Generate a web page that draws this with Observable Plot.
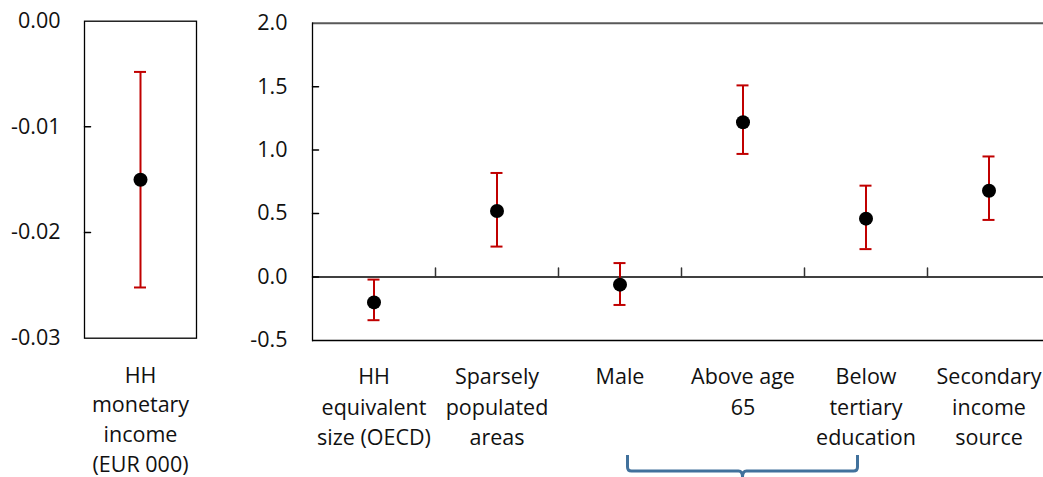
<!DOCTYPE html>
<html><head><meta charset="utf-8">
<script src="https://cdn.jsdelivr.net/npm/d3@7"></script>
<script src="https://cdn.jsdelivr.net/npm/@observablehq/plot@0.6"></script>
<style>
body{margin:0;background:#fff;overflow:hidden}
#wrap{position:relative;width:1043px;height:477px;overflow:hidden;background:#fff}
#wrap svg{position:absolute;top:0}
</style></head><body><div id="wrap"></div>
<script>
// ---- Left panel data ----
const incomeCategory = ["HH monetary income (EUR 000)"];
const incomeLabel = ["HH\nmonetary\nincome\n(EUR 000)"];
const incomeCoef = [-0.015];
const incomeLow = [-0.0252];
const incomeHigh = [-0.0048];
const incomeTicks = [0, -0.01, -0.02, -0.03];

// ---- Right panel data ----
const categories = ["HH equivalent size (OECD)", "Sparsely populated areas", "Male", "Above age 65", "Below tertiary education", "Secondary income source"];
const categoryLabels = ["HH\nequivalent\nsize (OECD)", "Sparsely\npopulated\nareas", "Male", "Above age\n65", "Below\ntertiary\neducation", "Secondary\nincome\nsource"];
const coef = [-0.20, 0.52, -0.06, 1.22, 0.46, 0.68];
const low = [-0.34, 0.24, -0.22, 0.97, 0.22, 0.45];
const high = [-0.02, 0.82, 0.11, 1.51, 0.72, 0.95];
const yTicks = [2.0, 1.5, 1.0, 0.5, 0.0, -0.5];
const braceFrom = "Male", braceTo = "Below tertiary education";

const FONT = "'Open Sans', 'Noto Sans', sans-serif";
const FS = 21.5;
const RED = "#c00000";
const wrap = document.getElementById("wrap");
const line = {draw(ctx, l) { ctx.moveTo(0, 0); ctx.lineTo(0, -l); }};

// ---- Left plot ----
const leftData = incomeCategory.map((c, i) => ({c, v: incomeCoef[i], lo: incomeLow[i], hi: incomeHigh[i]}));
const LW = 210, LML = 84, LMR = 14;
const lStep = (LW - LML - LMR) / incomeCategory.length;
const L = Plot.plot({
  width: LW, height: 477, marginLeft: LML, marginRight: LMR, marginTop: 20.7, marginBottom: 139.3,
  style: {fontFamily: FONT, fontSize: FS + "px", color: "#000", background: "transparent", overflow: "visible"},
  x: {type: "band", domain: incomeCategory, padding: 0, axis: null, label: null},
  y: {domain: [-0.03, 0], axis: null, label: null},
  marks: [
    Plot.frame({stroke: "#000", strokeWidth: 1.3}),
    Plot.axisY({ticks: incomeTicks, tickSize: 0, tickPadding: 24, tickFormat: d => d.toFixed(2), fill: "#111", label: null}),
    Plot.vector(incomeTicks.slice(1, -1), {y: d => d, frameAnchor: "left", length: 6, rotate: 90, anchor: "start", shape: line, stroke: "#000"}),
    Plot.axisX({tickSize: 0, tickPadding: 23, lineHeight: 30 / FS, tickFormat: c => incomeLabel[incomeCategory.indexOf(c)], fill: "#111", label: null}),
    Plot.ruleX(leftData, {x: "c", y1: "lo", y2: "hi", stroke: RED, strokeWidth: 2}),
    Plot.tickY(leftData, {x: "c", y: "lo", stroke: RED, strokeWidth: 2, inset: (lStep - 12) / 2}),
    Plot.tickY(leftData, {x: "c", y: "hi", stroke: RED, strokeWidth: 2, inset: (lStep - 12) / 2}),
    Plot.dot(leftData, {x: "c", y: "v", r: 7, fill: "#000"})
  ]
});
L.style.left = "0px";
wrap.appendChild(L);

// ---- Right plot ----
const rightData = categories.map((c, i) => ({c, v: coef[i], lo: low[i], hi: high[i]}));
const RW = 840, RML = 102, RMR = 0, RH = 477;
const rStep = (RW - RML - RMR) / categories.length;
const R = Plot.plot({
  width: RW, height: RH, marginLeft: RML, marginRight: RMR, marginTop: 22.7, marginBottom: 137,
  style: {fontFamily: FONT, fontSize: FS + "px", color: "#000", background: "transparent", overflow: "visible"},
  x: {type: "band", domain: categories, padding: 0, axis: null, label: null},
  y: {domain: [-0.5, 2.0], axis: null, label: null},
  marks: [
    Plot.ruleY([2.0], {stroke: "#595959", strokeWidth: 2}),
    Plot.ruleY([-0.5], {stroke: "#000", strokeWidth: 1.3}),
    Plot.frame({anchor: "left", stroke: "#000", strokeWidth: 1.3}),
    Plot.ruleY([0], {stroke: "#000", strokeWidth: 1.5}),
    Plot.vector(yTicks.filter(d => d > -0.5 && d < 2.0), {y: d => d, frameAnchor: "left", length: 6, rotate: 90, anchor: "start", shape: line, stroke: "#000"}),
    Plot.vector(categories.slice(1), {x: d => d, y: () => 0, dx: -rStep / 2, length: 9, rotate: 0, anchor: "start", shape: line, stroke: "#333", strokeWidth: 1.5}),
    Plot.axisY({ticks: yTicks, tickSize: 0, tickPadding: 25, tickFormat: d => d.toFixed(1), fill: "#111", label: null}),
    Plot.axisX({tickSize: 0, tickPadding: 22, lineHeight: 30.5 / FS, tickFormat: c => categoryLabels[categories.indexOf(c)], fill: "#111", label: null}),
    Plot.ruleX(rightData, {x: "c", y1: "lo", y2: "hi", stroke: RED, strokeWidth: 2}),
    Plot.tickY(rightData, {x: "c", y: "lo", stroke: RED, strokeWidth: 2, inset: (rStep - 12) / 2}),
    Plot.tickY(rightData, {x: "c", y: "hi", stroke: RED, strokeWidth: 2, inset: (rStep - 12) / 2}),
    Plot.dot(rightData, {x: "c", y: "v", r: 7, fill: "#000"})
  ]
});
R.style.left = LW + "px";
wrap.appendChild(R);

// ---- Curly brace under the grouped categories ----
const sx = R.scale("x");
const cx = c => sx.apply(c) + sx.bandwidth / 2;
const x1 = cx(braceFrom) + 8, x2 = cx(braceTo) - 8, mid = (x1 + x2) / 2;
const y0 = RH - 22, y1 = RH - 6, r = 4;
const path = `M${x1},${y0} V${y1 - r} Q${x1},${y1} ${x1 + r},${y1} H${mid - r} Q${mid},${y1} ${mid},${y1 + 6} Q${mid},${y1} ${mid + r},${y1} H${x2 - r} Q${x2},${y1} ${x2},${y1 - r} V${y0}`;
d3.select(R).append("path").attr("d", path).attr("fill", "none").attr("stroke", "#41719c").attr("stroke-width", 3);
</script></body></html>
